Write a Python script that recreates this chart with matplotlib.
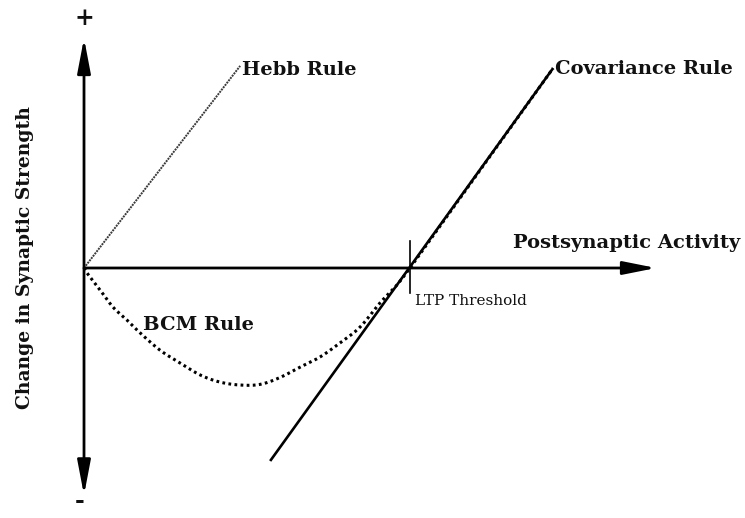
import matplotlib
matplotlib.use("Agg")
import matplotlib.pyplot as plt
import numpy as np

# Data (units: threshold = 10 on the postsynaptic activity axis)
hebb_x = [0.0, 4.79]
hebb_y = [0.0, 6.2]

cov_x = [5.71, 14.39]
cov_y = [-5.92, 6.13]

bcm_x = [0.0, 0.09, 0.49, 0.89, 1.32, 1.72, 2.33, 2.94, 3.56, 4.17, 4.79, 5.40,
         6.01, 6.63, 7.24, 7.85, 8.47, 9.08, 9.60, 10.0, 14.39]
bcm_y = [0.0, -0.15, -0.67, -1.20, -1.60, -1.99, -2.52, -2.91, -3.28, -3.50, -3.59, -3.57,
         -3.36, -3.04, -2.73, -2.30, -1.81, -1.07, -0.52, 0.0, 6.13]

threshold = 10.0

labels = {
    "hebb": "Hebb Rule",
    "cov": "Covariance Rule",
    "bcm": "BCM Rule",
    "xlab": "Postsynaptic Activity",
    "ylab": "Change in Synaptic Strength",
    "thr": "LTP Threshold",
}


def smooth_path(xs, ys, n=12):
    """Catmull-Rom curve through the read points (drawing only)."""
    p = np.column_stack([xs, ys]).astype(float)
    p = np.vstack([p[0], p, p[-1]])
    out = []
    t = np.linspace(0, 1, n, endpoint=False)[:, None]
    for i in range(1, len(p) - 2):
        p0, p1, p2, p3 = p[i - 1], p[i], p[i + 1], p[i + 2]
        seg = 0.5 * ((2 * p1) + (-p0 + p2) * t + (2 * p0 - 5 * p1 + 4 * p2 - p3) * t ** 2
                     + (-p0 + 3 * p1 - 3 * p2 + p3) * t ** 3)
        out.append(seg)
    out.append(p[-2][None, :])
    q = np.vstack(out)
    return q[:, 0], q[:, 1]


plt.rcParams['font.family'] = ['DejaVu Serif']

fig = plt.figure(figsize=(7.45, 5.18), dpi=100)
ax = fig.add_axes([0, 0, 1, 1])
ax.set_xlim(-2.577, 20.276)
ax.set_ylim(-7.669, 8.221)
ax.axis('off')

# axes arrows
ax.annotate('', xy=(0, 7.05), xytext=(0, -6.97),
            arrowprops=dict(arrowstyle='<|-|>,head_length=1.05,head_width=0.2',
                            mutation_scale=20, lw=2.0, color='black',
                            shrinkA=0, shrinkB=0))
ax.annotate('', xy=(17.55, 0), xytext=(0, 0),
            arrowprops=dict(arrowstyle='-|>,head_length=1.0,head_width=0.2',
                            mutation_scale=20, lw=2.0, color='black',
                            shrinkA=0, shrinkB=0))

# threshold tick
ax.plot([threshold, threshold], [-0.77, 0.83], color='black', lw=1.2)

# Hebb
ax.plot(hebb_x, hebb_y, color='#3a3a3a', lw=1.4, linestyle=(0, (1.0, 0.5)))
# Covariance
ax.plot(cov_x, cov_y, color='black', lw=1.9, solid_capstyle='butt')
# BCM: smooth curve up to threshold, straight beyond
k = bcm_x.index(threshold)
sx, sy = smooth_path(bcm_x[:k + 1], bcm_y[:k + 1])
sx = np.concatenate([sx, bcm_x[k + 1:]])
sy = np.concatenate([sy, bcm_y[k + 1:]])
ax.plot(sx, sy, color='black', lw=2.2, linestyle=(0, (0.9, 1.1)))

bold = dict(fontweight='bold', color='#111111')
ax.text(4.85, 6.07, labels["hebb"], ha='left', va='center', fontsize=14, **bold)
ax.text(14.45, 6.1, labels["cov"], ha='left', va='center', fontsize=14, **bold)
ax.text(13.16, 0.77, labels["xlab"], ha='left', va='center', fontsize=14, **bold)
ax.text(1.81, -1.75, labels["bcm"], ha='left', va='center', fontsize=14, **bold)
ax.text(-1.8, 0.31, labels["ylab"], ha='center', va='center', rotation=90,
        fontsize=13.5, **bold)
ax.text(10.15, -1.01, labels["thr"], ha='left', va='center', fontsize=11, color='#111111')
ax.text(0.0, 7.67, '+', ha='center', va='center', fontsize=17, **bold)
ax.text(-0.12, -7.15, '-', ha='center', va='center', fontsize=17, **bold)

fig.savefig('out.png', dpi=100)
